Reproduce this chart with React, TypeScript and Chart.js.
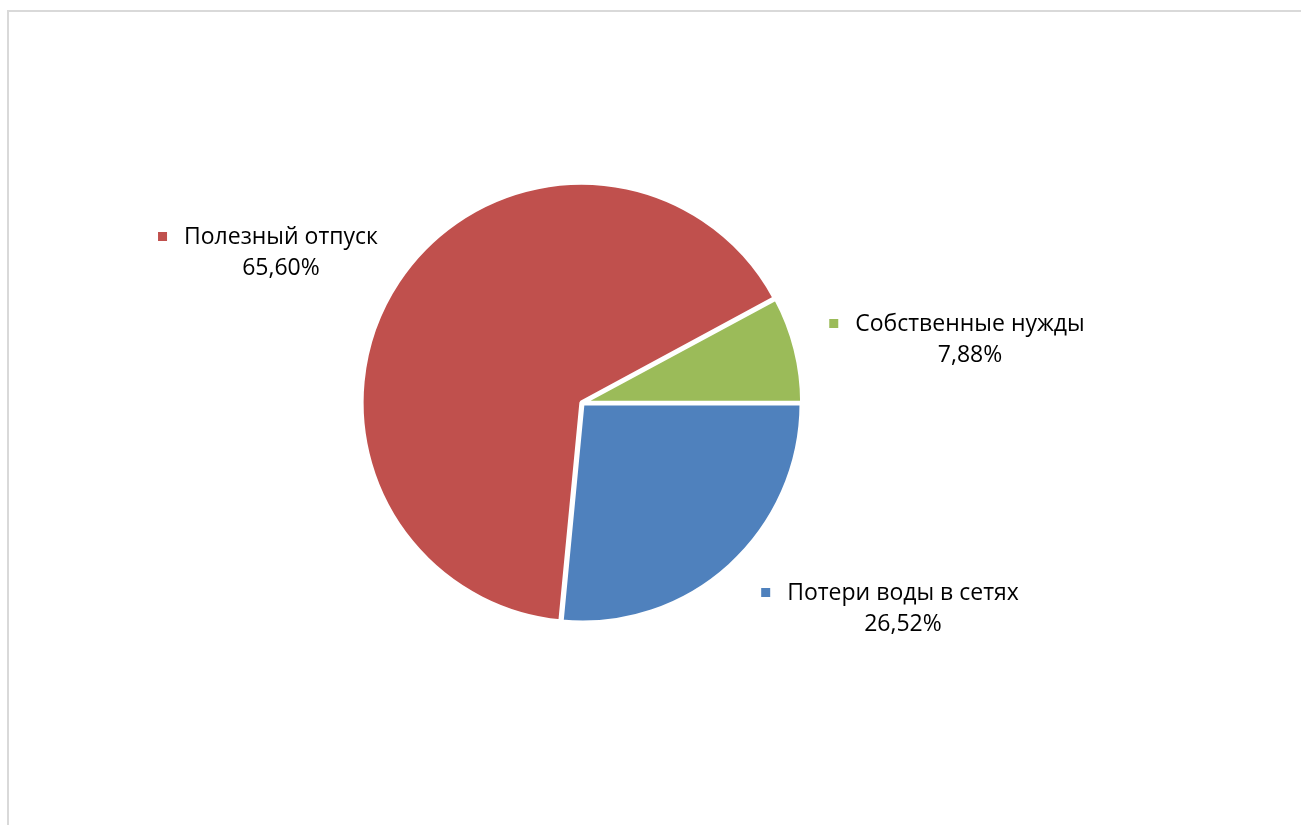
import React, { useEffect, useRef } from "react";
import { Chart, registerables } from "chart.js";

Chart.register(...registerables);

const categories = ["Полезный отпуск", "Собственные нужды", "Потери воды в сетях"];
const shares = [65.6, 7.88, 26.52];
const shareLabels = ["65,60%", "7,88%", "26,52%"];
const colors = ["#C0504D", "#9BBB59", "#4F81BD"];

// label anchor (centre of text lines), page px
const labelPos = [
  { x: 281, y: 237 },
  { x: 970, y: 324 },
  { x: 903, y: 593 },
];

const FONT = "23px 'Open Sans'";

const labelPlugin = {
  id: "sliceLabels",
  afterDraw(chart: any) {
    const ctx = chart.ctx;
    ctx.save();
    ctx.font = FONT;
    ctx.fillStyle = "#000";
    ctx.textBaseline = "middle";
    ctx.textAlign = "center";
    categories.forEach((c, i) => {
      const p = labelPos[i];
      const w = ctx.measureText(c).width;
      ctx.fillText(c, p.x, p.y);
      ctx.fillText(shareLabels[i], p.x, p.y + 31);
      ctx.fillStyle = colors[i];
      ctx.fillRect(p.x - w / 2 - 26, p.y - 5, 9, 9);
      ctx.fillStyle = "#000";
    });
    ctx.restore();
  },
};

export default function App() {
  const ref = useRef<HTMLCanvasElement | null>(null);
  useEffect(() => {
    document.body.style.margin = "0";
    const chart = new Chart(ref.current!, {
      type: "pie",
      data: {
        labels: categories,
        datasets: [
          {
            data: shares,
            backgroundColor: colors,
            borderColor: "#ffffff",
            borderWidth: 4,
            offset: 3,
          },
        ],
      },
      options: {
        responsive: false,
        animation: false,
        rotation: 185.47,
        radius: 219,
        layout: { padding: { left: 0, right: 137, top: 0, bottom: 19 } },
        plugins: { legend: { display: false }, tooltip: { enabled: false } },
      },
      plugins: [labelPlugin],
    });
    return () => chart.destroy();
  }, []);
  return (
    <div style={{ position: "relative", width: 1301, height: 825, overflow: "hidden", background: "#fff" }}>
      <div
        style={{
          position: "absolute",
          left: 7,
          top: 10,
          width: 1400,
          height: 900,
          border: "2px solid #d9d9d9",
          boxSizing: "border-box",
        }}
      />
      <canvas ref={ref} width={1301} height={825} style={{ position: "absolute", left: 0, top: 0 }} />
    </div>
  );
}
